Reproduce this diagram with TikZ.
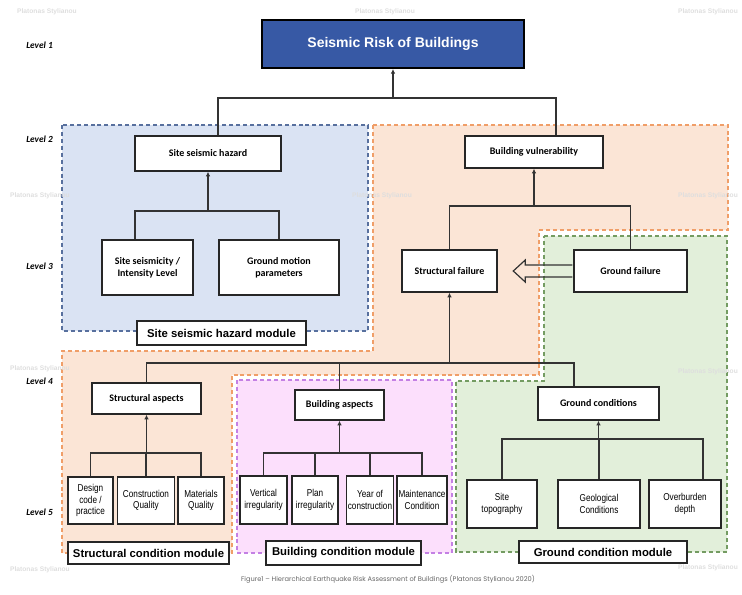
\documentclass[tikz,border=0pt]{standalone}
\usepackage{fontspec}
\setmainfont{Carlito}
\newfontfamily\arialfont{Liberation Sans}
\newfontfamily\narrowfont[FakeStretch=0.82]{Liberation Sans}
\newfontfamily\capfont{Poppins}
\usepackage{tikz}
\usetikzlibrary{calc}
\usetikzlibrary{arrows.meta}

\definecolor{hazfill}{RGB}{218,227,243}
\definecolor{hazline}{RGB}{88,112,158}
\definecolor{vulfill}{RGB}{251,229,214}
\definecolor{vulline}{RGB}{240,158,104}
\definecolor{grfill}{RGB}{226,239,218}
\definecolor{grline}{RGB}{116,156,98}
\definecolor{bdfill}{RGB}{252,223,252}
\definecolor{bdline}{RGB}{196,128,228}
\definecolor{titleblue}{RGB}{55,89,165}

\tikzset{
  sz/.style 2 args={minimum width=#1, minimum height=#2},
  box/.style={draw=black!85, line width=1.1pt, fill=white, align=center, inner sep=1pt},
  headbox/.style={box, font=\fontsize{7.5}{9}\selectfont\bfseries},
  leafbox/.style={box, font=\narrowfont\fontsize{7.5}{8.6}\selectfont},
  modbox/.style={box, line width=1.2pt, font=\arialfont\fontsize{8.5}{10}\selectfont\bfseries},
  link/.style={draw=black!80, line width=1.1pt},
  up/.style={link, -{Latex[length=3.5pt,width=3.5pt]}},
  hollow/.style={draw=black!80, line width=0.9pt, line join=miter},
  zone/.style={line width=0.8pt, dash pattern=on 3pt off 2.2pt},
  lvl/.style={anchor=west, inner sep=0pt, font=\fontsize{7}{8}\selectfont\bfseries\itshape},
  wmark/.style={inner sep=0pt, text=black!13, font=\arialfont\fontsize{5}{6}\selectfont\bfseries},
}

\begin{document}
\begin{tikzpicture}[x=0.75pt,y=0.75pt,yscale=-1]

\useasboundingbox (0,0) rectangle (742,594);

%Module zones
\draw [zone, draw=hazline, fill=hazfill] (62,125) rectangle (368,331) ;
\draw [zone, draw=vulline, fill=vulfill] (373,125) -- (728,125) -- (728,230) -- (539,230) -- (539,375) -- (232,375) -- (232,553) -- (62,553) -- (62,351) -- (373,351) -- cycle ;
\draw [zone, draw=grline, fill=grfill] (544,236) -- (727,236) -- (727,552) -- (456,552) -- (456,381) -- (544,381) -- cycle ;
\draw [zone, draw=bdline, fill=bdfill] (237,380) rectangle (452,553) ;

% Level 1
\draw (393,44) node [box, sz={196.5pt}{36pt}, fill=titleblue, draw=black, line width=1.5pt, text=white, font=\arialfont\fontsize{10.5}{12}\selectfont\bfseries] (risk) {Seismic Risk of Buildings};

% Level 2
\draw (208,153.5) node [headbox, sz={109.5pt}{26.25pt}] (ssh) {Site seismic hazard};
\draw (534,152) node [headbox, sz={103.5pt}{24pt}] (bv) {Building vulnerability};

% Level 3
\draw (147.5,267.5) node [headbox, sz={68.25pt}{41.25pt}] (sss) {Site seismicity /\\Intensity Level};
\draw (279,267.5) node [headbox, sz={90pt}{41.25pt}] (gmp) {Ground motion\\parameters};
\draw (449.5,271) node [headbox, sz={71.25pt}{31.5pt}] (sf) {Structural failure};
\draw (630.5,271) node [headbox, sz={84.75pt}{31.5pt}] (gf) {Ground failure};

% Level 4
\draw (146.5,398.5) node [headbox, sz={81.75pt}{23.25pt}] (sa) {Structural aspects};
\draw (339.5,405) node [headbox, sz={66.75pt}{22.5pt}] (ba) {Building aspects};
\draw (598.5,403.5) node [headbox, sz={90.75pt}{24.75pt}] (gc) {Ground conditions};

% Level 5
\draw (90.5,500.5) node [leafbox, sz={33.75pt}{35.25pt}] (dc) {Design\\code /\\practice};
\draw (146,500.5) node [leafbox, sz={42.75pt}{35.25pt}] (cq) {Construction\\Quality};
\draw (201,500.5) node [leafbox, sz={34.5pt}{35.25pt}] (mq) {Materials\\Quality};
\draw (263.5,500) node [leafbox, sz={35.25pt}{36pt}] (vi) {Vertical\\irregularity};
\draw (315,500) node [leafbox, sz={34.5pt}{36pt}] (plan) {Plan\\irregularity};
\draw (370,500) node [leafbox, sz={34.5pt}{36pt}] (yc) {Year of\\construction};
\draw (422,500) node [leafbox, sz={37.5pt}{36pt}] (mc) {Maintenance\\Condition};
\draw (502,504) node [leafbox, sz={52.5pt}{36pt}] (st) {Site\\topography};
\draw (599,504) node [leafbox, sz={61.5pt}{36pt}] (gco) {Geological\\Conditions};
\draw (685,504) node [leafbox, sz={54pt}{36pt}] (od) {Overburden\\depth};

% Module labels
\draw (221.5,333) node [modbox, sz={126.75pt}{18pt}] (ssm) {Site seismic hazard module};
\draw (148.5,553) node [modbox, sz={120.75pt}{16.5pt}] (scm) {Structural condition module};
\draw (343.5,553) node [modbox, sz={116.25pt}{18pt}] (bcm) {Building condition module};
\draw (603,552) node [modbox, sz={126pt}{16.5pt}] (gcm) {Ground condition module};

%Connectors
\coordinate (top) at (393,98);
\draw [up] (top) -- (risk.south) ;
\draw [link] ([xshift=7.5pt]ssh.north) |- (top) -| ([xshift=16.5pt]bv.north) ;

\coordinate (hz) at (208,211);
\draw [up] (hz) -- (ssh.south) ;
\draw [link] ([xshift=-9.4pt]sss.north) |- (hz) -| (gmp.north) ;

\coordinate (vu) at (534,206);
\draw [up] (vu) -- (bv.south) ;
\draw [link] (sf.north) |- (vu) -| (gf.north) ;

\coordinate (sfb) at (449.5,363);
\draw [up] (sfb) -- (sf.south) ;
\draw [link] (sa.north) |- (sfb) -| ([xshift=-18.4pt]gc.north) ;
\draw [link] (ba.north) -- (ba.north |- sfb) ;

\coordinate (sab) at (146.5,453);
\draw [up] (sab) -- (sa.south) ;
\draw [link] (dc.north) |- (sab) -| (mq.north) ;
\draw [link] (cq.north) -- (cq.north |- sab) ;

\coordinate (bab) at (339.5,453);
\draw [up] (bab) -- (ba.south) ;
\draw [link] (vi.north) |- (bab) -| (mc.north) ;
\draw [link] (plan.north) -- (plan.north |- bab) ;
\draw [link] (yc.north) -- (yc.north |- bab) ;

\coordinate (gcb) at (598.5,439);
\draw [up] (gcb) -- (gc.south) ;
\draw [link] (st.north) |- (gcb) -| ([xshift=13.5pt]od.north) ;
\draw [link] (gco.north) -- (gco.north |- gcb) ;

%Hollow arrow ground failure -> structural failure
\draw [hollow] ($(gf.west)+(-1,-6)$) -- ++(-47,0) -- ++(0,-5) -- ++(-12,11) -- ++(12,11) -- ++(0,-5) -- ++(47,0) ;

% Text Node
\draw (26,45) node [lvl] (l1) {Level 1};
\draw (26,139) node [lvl] (l2) {Level 2};
\draw (26,266) node [lvl] (l3) {Level 3};
\draw (26,381) node [lvl] (l4) {Level 4};
\draw (26,512) node [lvl] (l5) {Level 5};

% Text Node
\draw (388,579) node [inner sep=0pt, text=black!60, font=\capfont\fontsize{5}{6}\selectfont] (cap) {Figure1 – Hierarchical Earthquake Risk Assessment of Buildings (Platonas Stylianou 2020)};

% Watermarks
\draw (47,12) node [wmark] (w1) {Platonas Stylianou};
\draw (385,12) node [wmark] (w2) {Platonas Stylianou};
\draw (708,12) node [wmark] (w3) {Platonas Stylianou};
\draw (40,196) node [wmark] (w4) {Platonas Stylianou};
\draw (382,196) node [wmark] (w5) {Platonas Stylianou};
\draw (708,196) node [wmark] (w6) {Platonas Stylianou};
\draw (40,369) node [wmark] (w7) {Platonas Stylianou};
\draw (708,372) node [wmark] (w8) {Platonas Stylianou};
\draw (40,570) node [wmark] (w9) {Platonas Stylianou};
\draw (708,568) node [wmark] (w10) {Platonas Stylianou};

\end{tikzpicture}
\end{document}
